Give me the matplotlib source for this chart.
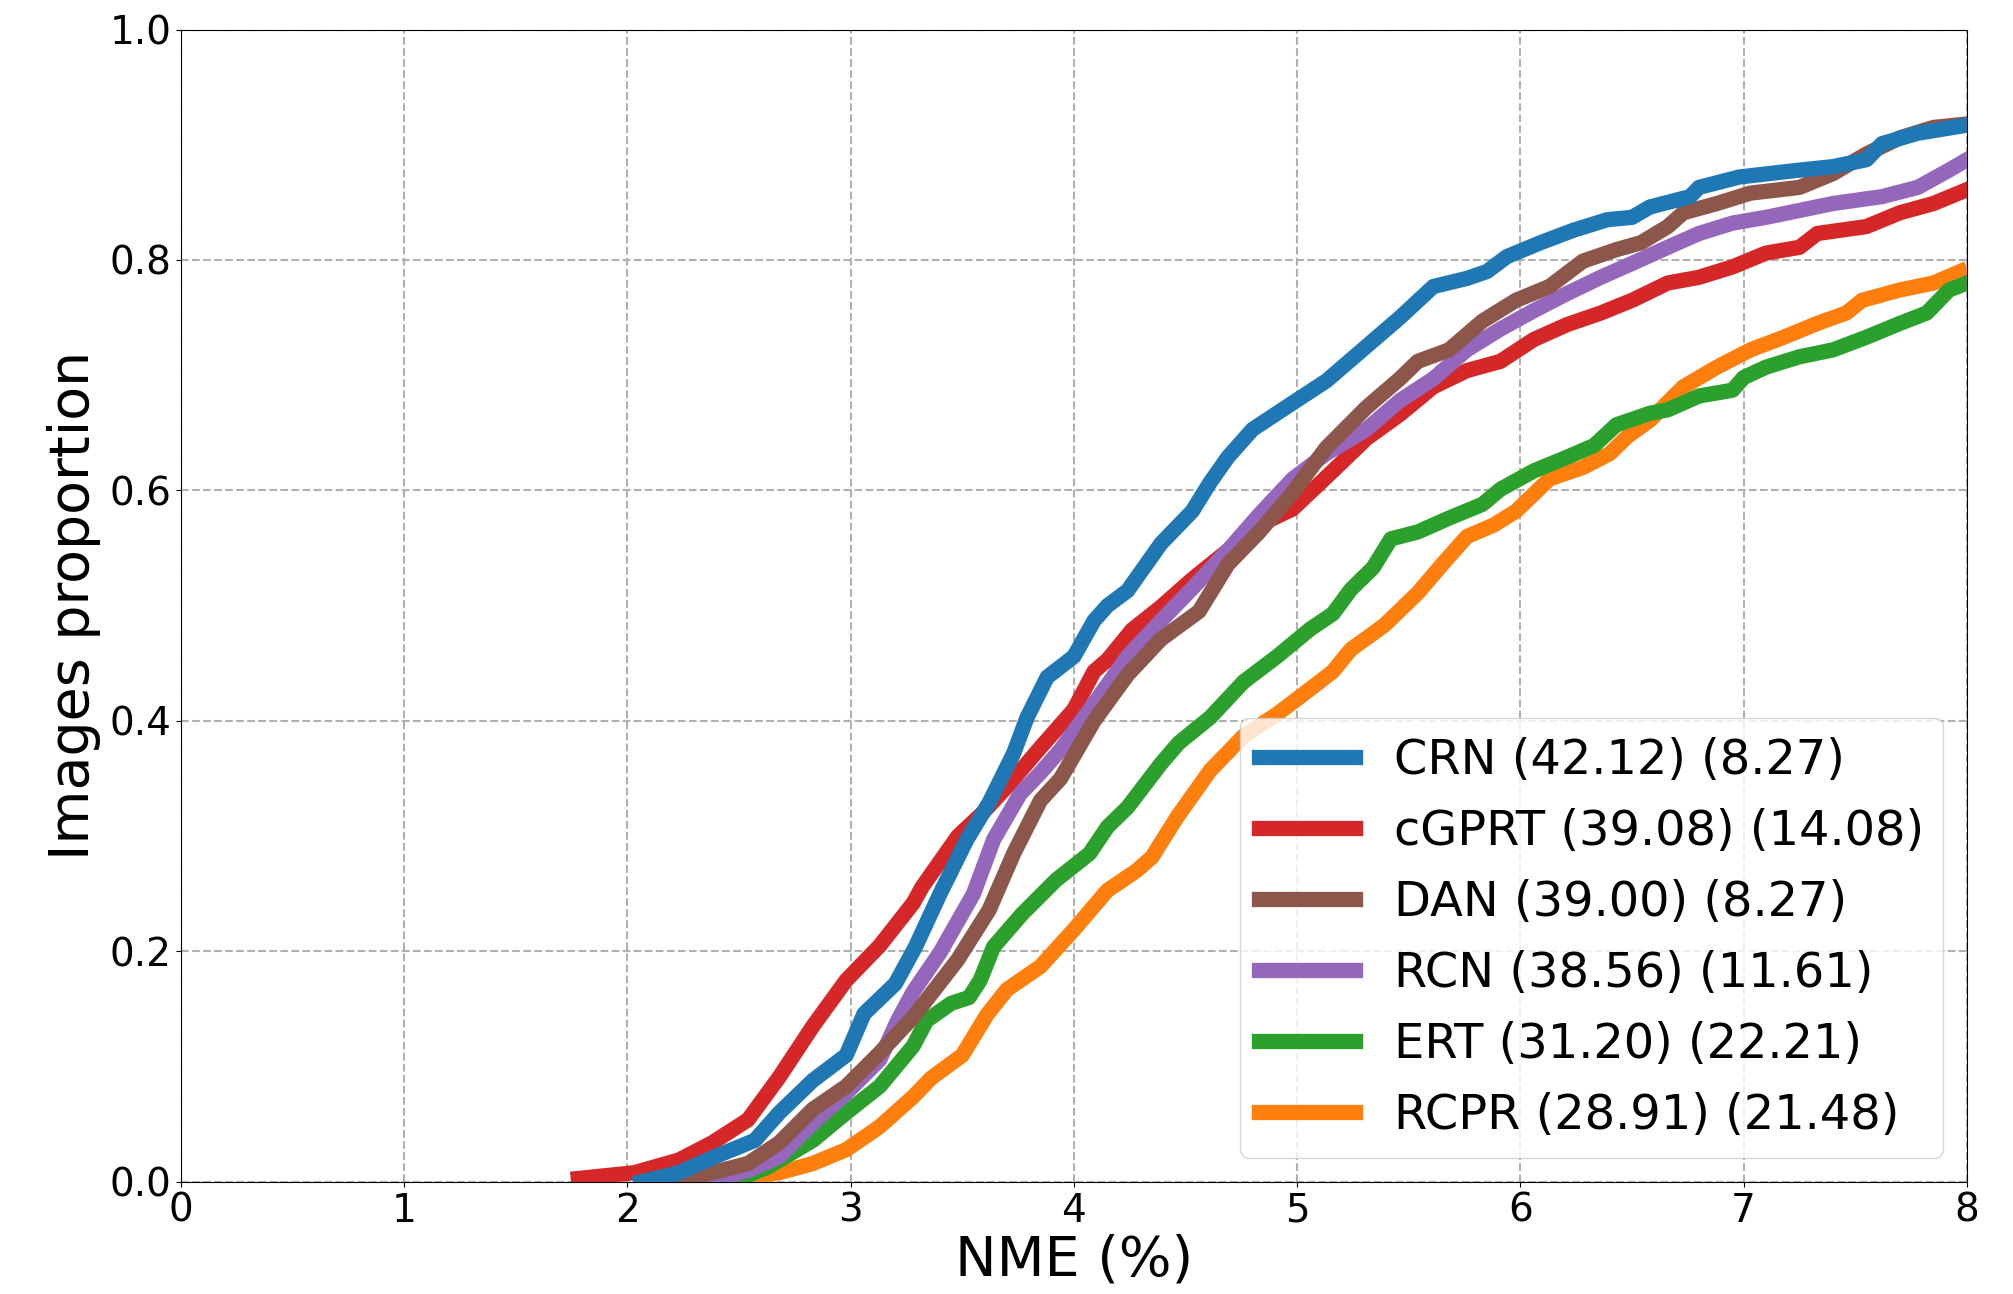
import matplotlib
matplotlib.use('Agg')
from matplotlib import pyplot as plt

### CED curves (NME %, proportion of images)
crn_x = [2.06, 2.23, 2.38, 2.57, 2.68, 2.83, 2.98, 3.06, 3.20, 3.29, 3.40, 3.52, 3.62, 3.73, 3.79,
         3.88, 4.00, 4.09, 4.15, 4.24, 4.39, 4.53, 4.61, 4.69, 4.80, 4.98, 5.13, 5.28, 5.46, 5.61,
         5.76, 5.85, 5.94, 6.09, 6.24, 6.39, 6.50, 6.58, 6.76, 6.80, 6.98, 7.25, 7.40, 7.55, 7.62,
         7.78, 8.00]
crn_y = [0.0, 0.008, 0.021, 0.036, 0.060, 0.088, 0.110, 0.146, 0.172, 0.204, 0.250, 0.297, 0.329,
         0.372, 0.403, 0.438, 0.456, 0.487, 0.500, 0.513, 0.554, 0.582, 0.607, 0.629, 0.653, 0.676,
         0.695, 0.720, 0.750, 0.777, 0.784, 0.790, 0.803, 0.815, 0.826, 0.835, 0.837, 0.846, 0.855,
         0.863, 0.872, 0.878, 0.881, 0.887, 0.901, 0.910, 0.917]

cgprt_x = [1.78, 2.03, 2.23, 2.38, 2.54, 2.68, 2.83, 2.98, 3.13, 3.28, 3.32, 3.48, 3.59, 3.70, 3.85,
           4.00, 4.09, 4.15, 4.26, 4.39, 4.53, 4.69, 4.83, 4.98, 5.16, 5.31, 5.46, 5.61, 5.76, 5.91,
           6.06, 6.21, 6.36, 6.50, 6.66, 6.80, 6.95, 7.10, 7.25, 7.33, 7.55, 7.70, 7.85, 8.00]
cgprt_y = [0.003, 0.008, 0.019, 0.034, 0.054, 0.091, 0.135, 0.175, 0.205, 0.242, 0.256, 0.300, 0.320,
           0.343, 0.377, 0.410, 0.443, 0.453, 0.479, 0.499, 0.523, 0.548, 0.570, 0.584, 0.617, 0.645,
           0.666, 0.690, 0.704, 0.712, 0.731, 0.744, 0.754, 0.765, 0.780, 0.785, 0.794, 0.806, 0.811,
           0.823, 0.829, 0.841, 0.849, 0.861]

dan_x = [2.22, 2.38, 2.54, 2.68, 2.83, 2.98, 3.13, 3.28, 3.48, 3.62, 3.73, 3.85, 3.94, 4.09, 4.24,
         4.39, 4.56, 4.69, 4.83, 4.98, 5.13, 5.31, 5.46, 5.54, 5.68, 5.83, 5.98, 6.13, 6.28, 6.43,
         6.54, 6.66, 6.73, 6.88, 7.03, 7.25, 7.40, 7.55, 7.70, 7.85, 8.00]
dan_y = [0.0, 0.008, 0.016, 0.034, 0.063, 0.083, 0.112, 0.143, 0.193, 0.236, 0.285, 0.331, 0.350,
         0.400, 0.440, 0.471, 0.495, 0.536, 0.564, 0.598, 0.637, 0.672, 0.697, 0.712, 0.722, 0.747,
         0.765, 0.777, 0.799, 0.809, 0.815, 0.829, 0.841, 0.849, 0.858, 0.863, 0.875, 0.892, 0.906,
         0.915, 0.918]

rcn_x = [2.35, 2.54, 2.68, 2.83, 2.98, 3.13, 3.21, 3.28, 3.40, 3.55, 3.64, 3.76, 3.85, 3.94, 4.09,
         4.24, 4.39, 4.53, 4.69, 4.83, 4.98, 5.13, 5.31, 5.46, 5.61, 5.76, 5.91, 6.06, 6.21, 6.36,
         6.50, 6.66, 6.80, 6.95, 7.10, 7.25, 7.40, 7.62, 7.78, 7.92, 8.00]
rcn_y = [0.0, 0.010, 0.022, 0.051, 0.077, 0.106, 0.140, 0.165, 0.199, 0.250, 0.297, 0.337, 0.355,
         0.375, 0.415, 0.456, 0.487, 0.515, 0.548, 0.579, 0.610, 0.632, 0.653, 0.678, 0.697, 0.722,
         0.740, 0.756, 0.771, 0.785, 0.797, 0.811, 0.823, 0.832, 0.837, 0.843, 0.849, 0.855, 0.863,
         0.878, 0.887]

ert_x = [2.47, 2.63, 2.83, 2.98, 3.13, 3.28, 3.34, 3.45, 3.53, 3.58, 3.64, 3.77, 3.92, 4.07, 4.15,
         4.24, 4.39, 4.47, 4.61, 4.76, 4.91, 5.06, 5.16, 5.24, 5.34, 5.42, 5.54, 5.68, 5.83, 5.91,
         6.06, 6.21, 6.33, 6.43, 6.58, 6.66, 6.80, 6.95, 7.00, 7.10, 7.25, 7.40, 7.55, 7.70, 7.82,
         7.92, 8.00]
ert_y = [0.0, 0.013, 0.036, 0.060, 0.083, 0.118, 0.140, 0.155, 0.160, 0.175, 0.204, 0.233, 0.262,
         0.285, 0.308, 0.325, 0.363, 0.381, 0.403, 0.434, 0.456, 0.480, 0.493, 0.514, 0.533, 0.558,
         0.564, 0.576, 0.588, 0.601, 0.617, 0.629, 0.639, 0.657, 0.667, 0.670, 0.682, 0.687, 0.698,
         0.707, 0.716, 0.722, 0.733, 0.745, 0.754, 0.774, 0.780]

rcpr_x = [2.40, 2.68, 2.83, 2.98, 3.13, 3.28, 3.36, 3.50, 3.61, 3.70, 3.85, 4.00, 4.15, 4.28, 4.35,
          4.46, 4.61, 4.76, 4.91, 5.06, 5.16, 5.24, 5.39, 5.54, 5.65, 5.76, 5.88, 5.98, 6.13, 6.28,
          6.40, 6.48, 6.58, 6.73, 6.88, 7.03, 7.18, 7.33, 7.46, 7.53, 7.70, 7.85, 7.97]
rcpr_y = [0.0, 0.008, 0.016, 0.028, 0.048, 0.074, 0.090, 0.110, 0.145, 0.167, 0.187, 0.219, 0.253,
          0.270, 0.282, 0.316, 0.357, 0.387, 0.406, 0.428, 0.443, 0.462, 0.483, 0.511, 0.536, 0.560,
          0.570, 0.582, 0.610, 0.620, 0.632, 0.647, 0.661, 0.690, 0.707, 0.722, 0.733, 0.745, 0.754,
          0.765, 0.774, 0.780, 0.790]

labels = ['CRN (42.12) (8.27)', 'cGPRT (39.08) (14.08)', 'DAN (39.00) (8.27)',
          'RCN (38.56) (11.61)', 'ERT (31.20) (22.21)', 'RCPR (28.91) (21.48)']
colors = ['#1f77b4', '#d62728', '#8c564b', '#9467bd', '#2ca02c', '#ff7f0e']
xs = [crn_x, cgprt_x, dan_x, rcn_x, ert_x, rcpr_x]
ys = [crn_y, cgprt_y, dan_y, rcn_y, ert_y, rcpr_y]
# drawing order (higher = on top)
zorders = [6, 3, 5, 4, 2, 1]

x_ticks = [0, 1, 2, 3, 4, 5, 6, 7, 8]
y_ticks = [0.0, 0.2, 0.4, 0.6, 0.8, 1.0]

fig = plt.figure(figsize=(20.13, 12.94), dpi=100)
ax = fig.add_axes([0.0899, 0.0866, 0.8872, 0.8906])

handles = []
for x, y, c, lab, z in zip(xs, ys, colors, labels, zorders):
        h, = ax.plot(x, y, color=c, linewidth=11, label=lab, zorder=z + 2)
        handles.append(h)

ax.set_xlim(0, 8)
ax.set_ylim(0, 1)
ax.set_xticks(x_ticks)
ax.set_yticks(y_ticks)
ax.set_xticklabels([str(t) for t in x_ticks])
ax.set_yticklabels(['%.1f' % t for t in y_ticks])
ax.tick_params(axis='both', which='major', labelsize=28)

ax.grid(True, linestyle='--', color='#b0b0b0', linewidth=1.5)
ax.set_axisbelow(True)

ax.set_xlabel('NME (%)', fontsize=40, labelpad=3)
ax.set_ylabel('Images proportion', fontsize=40, labelpad=6)

ax.legend(handles=handles, loc='lower right', fontsize=34.5)

plt.savefig('out.png', dpi=100)
